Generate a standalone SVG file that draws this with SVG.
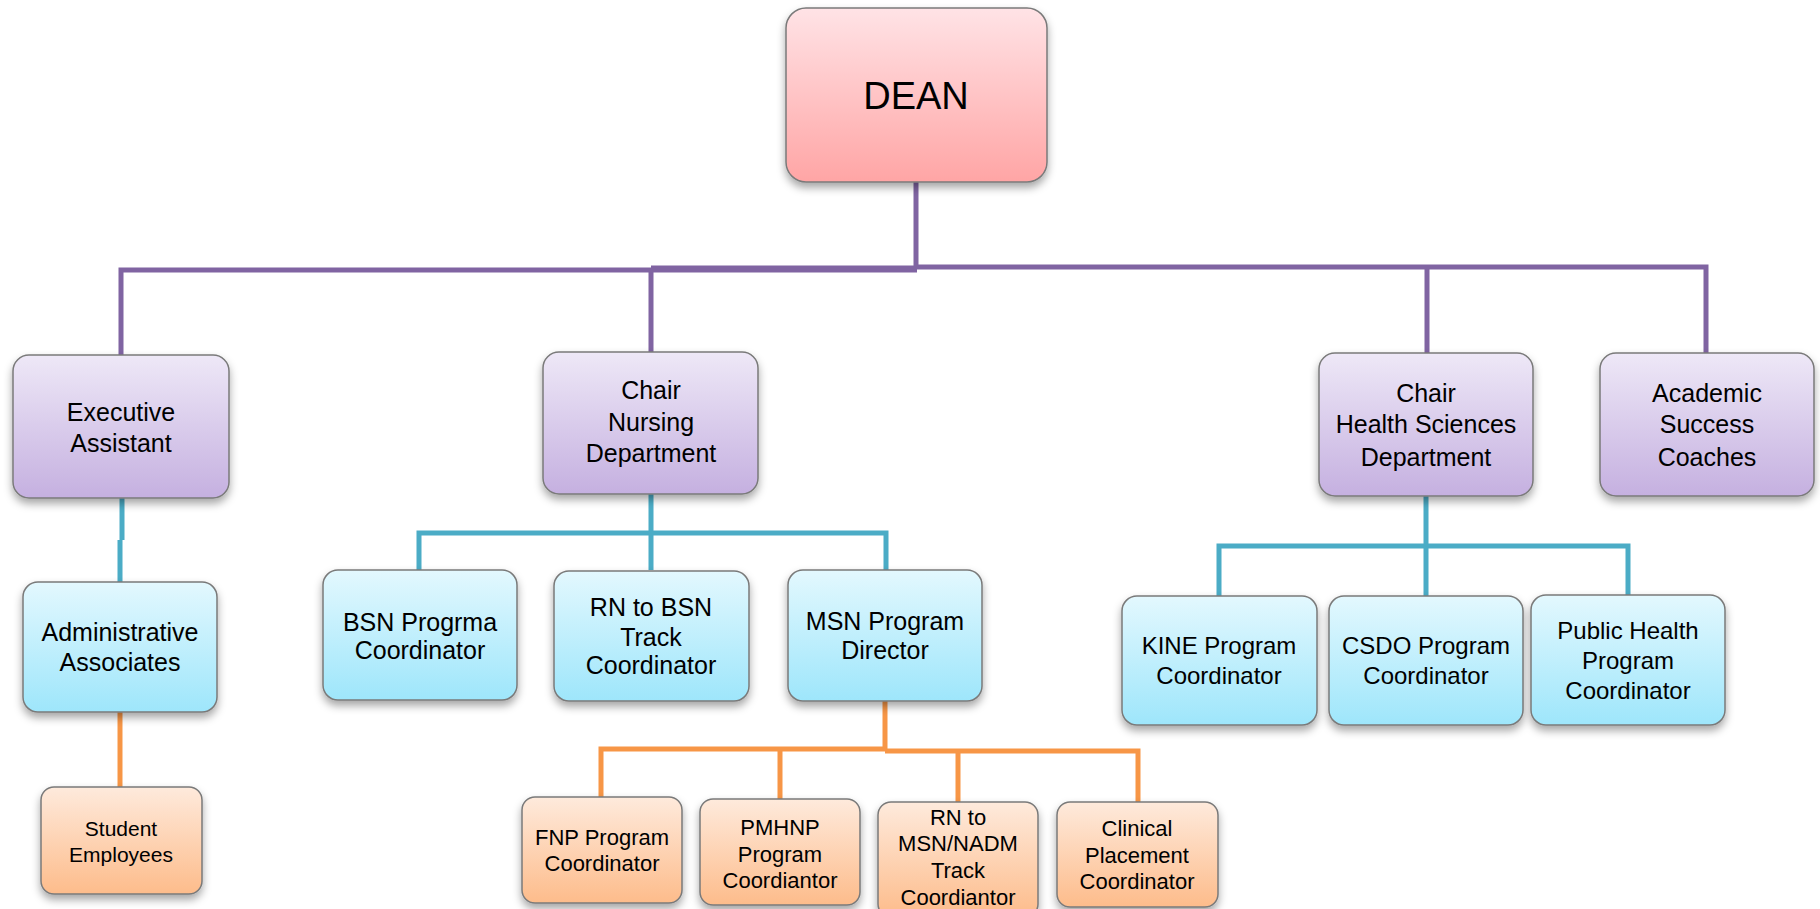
<svg xmlns="http://www.w3.org/2000/svg" width="1820" height="909" viewBox="0 0 1820 909">
<defs>
<linearGradient id="gPink" x1="0" y1="0" x2="0" y2="1"><stop offset="0" stop-color="#FFE3E6"/><stop offset="1" stop-color="#FFA5A5"/></linearGradient>
<linearGradient id="gPurple" x1="0" y1="0" x2="0" y2="1"><stop offset="0" stop-color="#EEE8F7"/><stop offset="1" stop-color="#C5B0E0"/></linearGradient>
<linearGradient id="gBlue" x1="0" y1="0" x2="0" y2="1"><stop offset="0" stop-color="#E3F8FE"/><stop offset="1" stop-color="#9EE6FB"/></linearGradient>
<linearGradient id="gOrange" x1="0" y1="0" x2="0" y2="1"><stop offset="0" stop-color="#FEEADC"/><stop offset="1" stop-color="#FDBC8B"/></linearGradient>
<filter id="sh" x="-10%" y="-10%" width="120%" height="130%"><feDropShadow dx="0" dy="5" stdDeviation="4" flood-color="#000" flood-opacity="0.35"/></filter>
</defs>
<style>
.box{stroke:#7a7a7a;stroke-width:1.5;filter:url(#sh)}
.pk{fill:url(#gPink)}.pu{fill:url(#gPurple)}.bl{fill:url(#gBlue)}.or{fill:url(#gOrange)}
text{font-family:"Liberation Sans",Arial,sans-serif;text-anchor:middle;fill:#000}
.t38{font-size:38px}.t25{font-size:25px}.t24{font-size:24px}.t22{font-size:22px}.t21{font-size:21px}
.cp{stroke:#8064A2;stroke-width:5;fill:none}
.cb{stroke:#4BACC6;stroke-width:5;fill:none}
.co{stroke:#F79646;stroke-width:5;fill:none}
</style>
<g id="connectors">
<path class="cp" d="M916 181V268M121 355V270H917M917 267H1706V353M651 352V268M1427 353V267"/>
<path class="cp" d="M651 268H917" stroke-width="7"/>
<path class="cb" d="M122 498V540M120 540V582"/>
<path class="cb" d="M651 494V570M419 570V533H886V570"/>
<path class="cb" d="M1426 496V596M1219 596V546H1628V595"/>
<path class="co" d="M120 712V787"/>
<path class="co" d="M885 701V750M601 797V749H885M885 751H1138V802M780 749V799M958 751V802"/>
</g>
<g id="dean"><rect class="box pk" x="786" y="8" width="261" height="174" rx="20"/><text class="t38" x="916" y="109">DEAN</text></g>
<g id="exec-assistant"><rect class="box pu" x="13" y="355" width="216" height="143" rx="16"/><text class="t25" x="121" y="421">Executive</text><text class="t25" x="121" y="452">Assistant</text></g>
<g id="chair-nursing"><rect class="box pu" x="543" y="352" width="215" height="142" rx="16"/><text class="t25" x="651" y="399">Chair</text><text class="t25" x="651" y="431">Nursing</text><text class="t25" x="651" y="462">Department</text></g>
<g id="chair-hs"><rect class="box pu" x="1319" y="353" width="214" height="143" rx="16"/><text class="t25" x="1426" y="402">Chair</text><text class="t25" x="1426" y="433">Health Sciences</text><text class="t25" x="1426" y="466">Department</text></g>
<g id="academic"><rect class="box pu" x="1600" y="353" width="214" height="143" rx="16"/><text class="t25" x="1707" y="402">Academic</text><text class="t25" x="1707" y="433">Success</text><text class="t25" x="1707" y="466">Coaches</text></g>
<g id="admin-assoc"><rect class="box bl" x="23" y="582" width="194" height="130" rx="15"/><text class="t25" x="120" y="641">Administrative</text><text class="t25" x="120" y="671">Associates</text></g>
<g id="bsn"><rect class="box bl" x="323" y="570" width="194" height="130" rx="15"/><text class="t25" x="420" y="631">BSN Progrma</text><text class="t25" x="420" y="659">Coordinator</text></g>
<g id="rn-bsn"><rect class="box bl" x="554" y="571" width="195" height="130" rx="15"/><text class="t25" x="651" y="616">RN to BSN</text><text class="t25" x="651" y="646">Track</text><text class="t25" x="651" y="674">Coordinator</text></g>
<g id="msn"><rect class="box bl" x="788" y="570" width="194" height="131" rx="15"/><text class="t25" x="885" y="630">MSN Program</text><text class="t25" x="885" y="659">Director</text></g>
<g id="kine"><rect class="box bl" x="1122" y="596" width="195" height="129" rx="15"/><text class="t24" x="1219" y="654">KINE Program</text><text class="t24" x="1219" y="684">Coordinator</text></g>
<g id="csdo"><rect class="box bl" x="1329" y="596" width="194" height="129" rx="15"/><text class="t24" x="1426" y="654">CSDO Program</text><text class="t24" x="1426" y="684">Coordinator</text></g>
<g id="public-health"><rect class="box bl" x="1531" y="595" width="194" height="130" rx="15"/><text class="t24" x="1628" y="639">Public Health</text><text class="t24" x="1628" y="669">Program</text><text class="t24" x="1628" y="699">Coordinator</text></g>
<g id="student-employees"><rect class="box or" x="41" y="787" width="161" height="107" rx="13"/><text class="t21" x="121" y="836">Student</text><text class="t21" x="121" y="862">Employees</text></g>
<g id="fnp"><rect class="box or" x="522" y="797" width="160" height="106" rx="13"/><text class="t22" x="602" y="845">FNP Program</text><text class="t22" x="602" y="871">Coordinator</text></g>
<g id="pmhnp"><rect class="box or" x="700" y="799" width="160" height="106" rx="13"/><text class="t22" x="780" y="835">PMHNP</text><text class="t22" x="780" y="862">Program</text><text class="t22" x="780" y="888">Coordiantor</text></g>
<g id="rn-msn"><rect class="box or" x="878" y="802" width="160" height="115" rx="13"/><text class="t22" x="958" y="825">RN to</text><text class="t22" x="958" y="851">MSN/NADM</text><text class="t22" x="958" y="878">Track</text><text class="t22" x="958" y="905">Coordiantor</text></g>
<g id="clinical"><rect class="box or" x="1057" y="802" width="161" height="105" rx="13"/><text class="t22" x="1137" y="836">Clinical</text><text class="t22" x="1137" y="863">Placement</text><text class="t22" x="1137" y="889">Coordinator</text></g>
</svg>
